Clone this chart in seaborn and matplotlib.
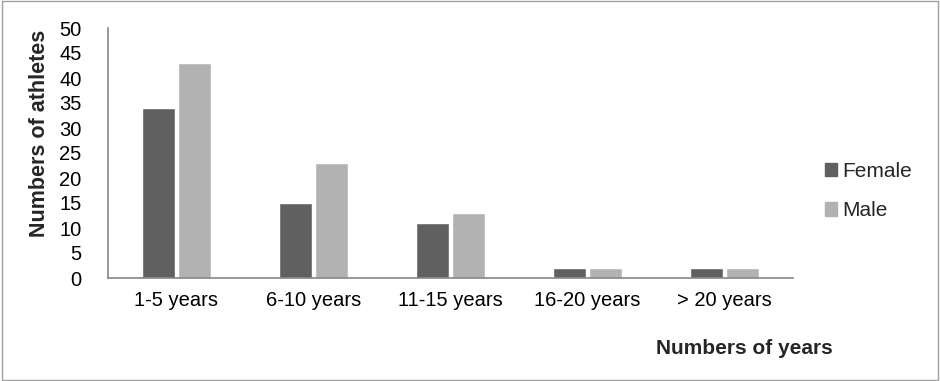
import pandas as pd
import matplotlib.pyplot as plt
import seaborn as sns
from matplotlib.patches import Rectangle

# Values
categories = ['1-5 years', '6-10 years', '11-15 years', '16-20 years', '> 20 years']
female = [34, 15, 11, 2, 2]
male = [43, 23, 13, 2, 2]

df = pd.DataFrame({
    'years': categories * 2,
    'count': female + male,
    'sex': ['Female'] * len(categories) + ['Male'] * len(categories),
})

sns.set_style('white')
plt.rcParams['font.family'] = ['Liberation Sans', 'DejaVu Sans']

fig = plt.figure(figsize=(9.4, 3.81), dpi=100)
ax = fig.add_axes([108 / 940, 1 - 278 / 381, 685 / 940, 250 / 381])

sns.barplot(data=df, x='years', y='count', hue='sex', ax=ax,
            palette={'Female': '#606060', 'Male': '#b2b2b2'},
            width=0.53, gap=0.11, saturation=1, legend=False)

ax.set_ylim(0, 50)
ax.set_yticks(range(0, 51, 5))
ax.set_xlim(-0.5, len(categories) - 0.5)
ax.tick_params(axis='both', length=0, labelsize=14.5, colors='black')
ax.tick_params(axis='x', pad=9)
ax.tick_params(axis='y', pad=19)

sns.despine(ax=ax)
for s in ['left', 'bottom']:
    ax.spines[s].set_color('#868686')
    ax.spines[s].set_linewidth(1.2)

ax.set_xlabel('')
ax.set_ylabel('')
fig.text(40 / 940, 1 - 133 / 381, 'Numbers of athletes', fontsize=15.5,
         fontweight='bold', rotation=90, ha='center', va='center')
fig.text(744 / 940, 1 - 349 / 381, 'Numbers of years', fontsize=15,
         fontweight='bold', ha='center', va='center')

# legend with small square keys
handles = [Rectangle((0, 0), 1, 1, color='#606060'),
           Rectangle((0, 0), 1, 1, color='#b2b2b2')]
fig.legend(handles, ['Female', 'Male'], loc='center left',
           bbox_to_anchor=(806 / 940, 1 - 191 / 381), frameon=False,
           fontsize=15, handlelength=0.6, handleheight=0.6,
           handletextpad=0.25, labelspacing=1.0)

# outer frame
fig.patches.append(Rectangle((0.002, 0.003), 0.996, 0.994, transform=fig.transFigure,
                             fill=False, edgecolor='#a0a0a0', linewidth=1))

fig.savefig('out.png', dpi=100)
